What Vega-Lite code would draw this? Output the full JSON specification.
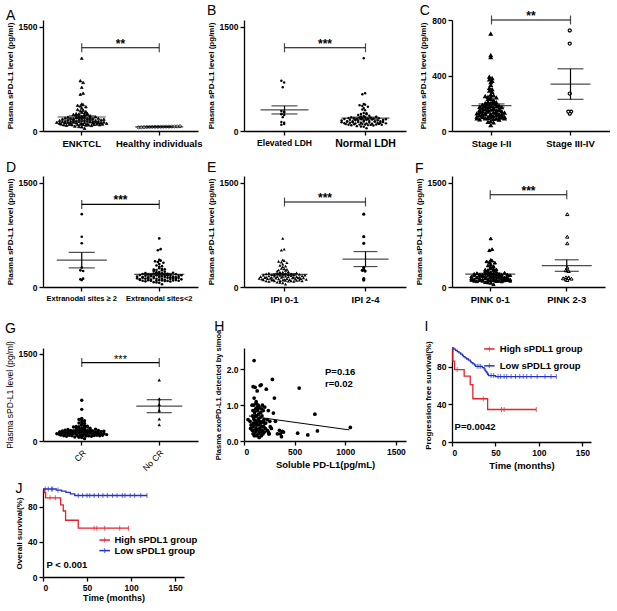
{
"$schema": "https://vega.github.io/schema/vega-lite/v6.json",
"background": "white",
"padding": {"left": 5, "top": 4, "right": 0, "bottom": 0},
"config": {
 "font": "Liberation Sans",
 "view": {"stroke": null},
 "axis": {"grid": false, "domainColor": "#000", "domainWidth": 1.3, "tickColor": "#000", "tickWidth": 1.3, "tickSize": 4, "labelColor": "#000", "titleColor": "#000", "labelFont": "Liberation Sans", "titleFont": "Liberation Sans", "labelFontWeight": "bold", "labelFontSize": 8.5, "titleFontWeight": "bold", "titleFontSize": 8, "labelPadding": 2, "titlePadding": 4},
 "axisBand": {"labelFontSize": 9.5, "labelAngle": 0, "labelPadding": 3},
 "title": {"anchor": "start", "frame": "bounds", "fontSize": 14, "fontWeight": "normal", "color": "#000", "font": "Liberation Sans", "offset": 3}
},
"datasets": {
 "pts": [
  {"c":"P","v":1050,"l":"N","s":null,"e":"≥2","i":"2-4","p":"2-3","r":"No CR","x":0.38},
  {"c":"P","v":725,"l":"E","s":"III-IV","e":"≥2","i":"2-4","p":"2-3","r":"No CR","x":0.28},
  {"c":"P","v":700,"l":"E","s":"I-II","e":"<2","i":"0-1","p":"0-1","r":"CR","x":0.75},
  {"c":"P","v":630,"l":"E","s":"III-IV","e":"≥2","i":"2-4","p":"2-3","r":"No CR","x":0.17},
  {"c":"P","v":545,"l":"N","s":"I-II","e":"<2","i":"0-1","p":"0-1","r":"CR","x":1.48},
  {"c":"P","v":530,"l":"N","s":"I-II","e":"<2","i":"0-1","p":"0-1","r":"No CR","x":0.22},
  {"c":"P","v":380,"l":"N","s":"I-II","e":"<2","i":"0-1","p":"0-1","r":"No CR","x":0.27},
  {"c":"P","v":280,"l":"E","s":"I-II","e":"≥2","i":"2-4","p":"2-3","r":"No CR","x":1.72},
  {"c":"P","v":270,"l":"E","s":"III-IV","e":"<2","i":"0-1","p":"0-1","r":"CR","x":0.35},
  {"c":"P","v":240,"l":"E","s":"I-II","e":"≥2","i":"2-4","p":"2-3","r":"CR","x":0.25},
  {"c":"P","v":230,"l":"E","s":"I-II","e":"≥2","i":"2-4","p":"2-3","r":"CR","x":0.6},
  {"c":"P","v":250,"l":"E","s":"I-II","e":"<2","i":"2-4","p":"0-1","r":"CR","x":0.2},
  {"c":"P","v":140,"l":"N","s":"III-IV","e":"<2","i":"0-1","p":"2-3","r":"CR","x":0.9},
  {"c":"P","v":125,"l":"N","s":"III-IV","e":"<2","i":"0-1","p":"2-3","r":"CR","x":0.45},
  {"c":"P","v":140,"l":"N","s":"III-IV","e":"<2","i":"0-1","p":"2-3","r":"CR","x":0.3},
  {"c":"P","v":120,"l":"E","s":"I-II","e":"≥2","i":"2-4","p":"2-3","r":"CR","x":1.1},
  {"c":"P","v":110,"l":"N","s":"I-II","e":"≥2","i":"0-1","p":"2-3","r":"CR","x":0.7},
  {"c":"P","v":100,"l":"E","s":"I-II","e":"≥2","i":"2-4","p":"2-3","r":"CR","x":2.25},
  {"c":"P","v":290,"l":"E","s":"I-II","e":"<2","i":"0-1","p":"0-1","r":"CR","x":0.78},
  {"c":"P","v":200,"l":"E","s":"I-II","e":"<2","i":"0-1","p":"0-1","r":"CR","x":0.5},
  {"c":"P","v":130,"l":"E","s":"I-II","e":"<2","i":"0-1","p":"2-3","r":"CR","x":0.95},
  {"c":"P","v":90,"l":"E","s":"I-II","e":"<2","i":"0-1","p":"0-1","r":"CR","x":0.4},
  {"c":"P","v":40,"l":"N","s":"I-II","e":"<2","i":"0-1","p":"0-1","r":"CR","x":0.6},
  {"c":"P","v":60,"l":"N","s":"I-II","e":"<2","i":"0-1","p":"0-1","r":"CR","x":0.55},
  {"c":"P","v":65,"l":"N","s":"I-II","e":"<2","i":"0-1","p":"0-1","r":"CR","x":0.35},
  {"c":"P","v":70,"l":"N","s":"I-II","e":"<2","i":"0-1","p":"0-1","r":"CR","x":0.45},
  {"c":"P","v":80,"l":"N","s":"I-II","e":"<2","i":"0-1","p":"0-1","r":"CR","x":1.0},
  {"c":"P","v":82,"l":"N","s":"I-II","e":"<2","i":"0-1","p":"0-1","r":"CR","x":0.3},
  {"c":"P","v":85,"l":"N","s":"I-II","e":"<2","i":"0-1","p":"0-1","r":"CR","x":0.7},
  {"c":"P","v":88,"l":"N","s":"I-II","e":"<2","i":"0-1","p":"0-1","r":"CR","x":0.85},
  {"c":"P","v":90,"l":"N","s":"I-II","e":"<2","i":"0-1","p":"0-1","r":"CR","x":1.52},
  {"c":"P","v":90,"l":"N","s":"I-II","e":"<2","i":"0-1","p":"0-1","r":"CR","x":0.2},
  {"c":"P","v":92,"l":"N","s":"I-II","e":"<2","i":"0-1","p":"0-1","r":"CR","x":0.5},
  {"c":"P","v":95,"l":"N","s":"I-II","e":"<2","i":"0-1","p":"0-1","r":"CR","x":0.65},
  {"c":"P","v":95,"l":"N","s":"I-II","e":"<2","i":"0-1","p":"0-1","r":"CR","x":1.0},
  {"c":"P","v":98,"l":"N","s":"I-II","e":"<2","i":"0-1","p":"0-1","r":"CR","x":0.3},
  {"c":"P","v":100,"l":"N","s":"I-II","e":"<2","i":"0-1","p":"0-1","r":"CR","x":0.6},
  {"c":"P","v":100,"l":"N","s":"I-II","e":"<2","i":"0-1","p":"0-1","r":"CR","x":1.2},
  {"c":"P","v":102,"l":"N","s":"I-II","e":"<2","i":"0-1","p":"0-1","r":"CR","x":0.15},
  {"c":"P","v":105,"l":"N","s":"I-II","e":"<2","i":"0-1","p":"0-1","r":"CR","x":0.8},
  {"c":"P","v":108,"l":"N","s":"I-II","e":"<2","i":"0-1","p":"0-1","r":"CR","x":0.45},
  {"c":"P","v":110,"l":"N","s":"I-II","e":"<2","i":"0-1","p":"0-1","r":"CR","x":1.5},
  {"c":"P","v":112,"l":"N","s":"I-II","e":"<2","i":"0-1","p":"0-1","r":"CR","x":0.25},
  {"c":"P","v":115,"l":"N","s":"I-II","e":"<2","i":"0-1","p":"0-1","r":"CR","x":0.9},
  {"c":"P","v":118,"l":"N","s":"I-II","e":"<2","i":"0-1","p":"0-1","r":"CR","x":0.55},
  {"c":"P","v":120,"l":"N","s":"I-II","e":"<2","i":"0-1","p":"0-1","r":"CR","x":1.05},
  {"c":"P","v":120,"l":"N","s":"I-II","e":"<2","i":"0-1","p":"0-1","r":"CR","x":0.35},
  {"c":"P","v":122,"l":"N","s":"I-II","e":"<2","i":"0-1","p":"0-1","r":"CR","x":0.7},
  {"c":"P","v":125,"l":"N","s":"I-II","e":"<2","i":"0-1","p":"0-1","r":"CR","x":0.15},
  {"c":"P","v":128,"l":"N","s":"I-II","e":"<2","i":"0-1","p":"0-1","r":"CR","x":0.5},
  {"c":"P","v":130,"l":"N","s":"I-II","e":"<2","i":"0-1","p":"0-1","r":"CR","x":1.4},
  {"c":"P","v":132,"l":"N","s":"I-II","e":"<2","i":"0-1","p":"0-1","r":"CR","x":0.85},
  {"c":"P","v":135,"l":"N","s":"I-II","e":"<2","i":"0-1","p":"0-1","r":"CR","x":0.3},
  {"c":"P","v":138,"l":"N","s":"I-II","e":"<2","i":"0-1","p":"0-1","r":"CR","x":0.6},
  {"c":"P","v":140,"l":"N","s":"I-II","e":"<2","i":"0-1","p":"0-1","r":"CR","x":1.0},
  {"c":"P","v":142,"l":"N","s":"I-II","e":"<2","i":"0-1","p":"0-1","r":"CR","x":0.2},
  {"c":"P","v":145,"l":"N","s":"I-II","e":"<2","i":"0-1","p":"0-1","r":"CR","x":0.75},
  {"c":"P","v":148,"l":"N","s":"I-II","e":"<2","i":"0-1","p":"0-1","r":"CR","x":0.45},
  {"c":"P","v":150,"l":"N","s":"I-II","e":"<2","i":"0-1","p":"0-1","r":"CR","x":0.95},
  {"c":"P","v":150,"l":"N","s":"I-II","e":"<2","i":"0-1","p":"0-1","r":"CR","x":0.1},
  {"c":"P","v":152,"l":"N","s":"I-II","e":"<2","i":"0-1","p":"0-1","r":"CR","x":0.55},
  {"c":"P","v":155,"l":"N","s":"I-II","e":"<2","i":"0-1","p":"0-1","r":"CR","x":0.35},
  {"c":"P","v":158,"l":"N","s":"I-II","e":"<2","i":"0-1","p":"0-1","r":"CR","x":0.65},
  {"c":"P","v":160,"l":"N","s":"I-II","e":"<2","i":"0-1","p":"0-1","r":"CR","x":1.55},
  {"c":"P","v":162,"l":"N","s":"I-II","e":"<2","i":"0-1","p":"0-1","r":"CR","x":0.25},
  {"c":"P","v":165,"l":"N","s":"I-II","e":"<2","i":"0-1","p":"0-1","r":"CR","x":0.8},
  {"c":"P","v":168,"l":"N","s":"I-II","e":"<2","i":"0-1","p":"0-1","r":"CR","x":0.5},
  {"c":"P","v":170,"l":"N","s":"I-II","e":"<2","i":"0-1","p":"0-1","r":"CR","x":1.57},
  {"c":"P","v":172,"l":"N","s":"I-II","e":"<2","i":"0-1","p":"0-1","r":"CR","x":0.15},
  {"c":"P","v":175,"l":"N","s":"I-II","e":"<2","i":"0-1","p":"0-1","r":"CR","x":0.9},
  {"c":"P","v":175,"l":"N","s":"I-II","e":"<2","i":"0-1","p":"0-1","r":"CR","x":0.4},
  {"c":"P","v":178,"l":"N","s":"I-II","e":"<2","i":"0-1","p":"0-1","r":"CR","x":0.7},
  {"c":"P","v":180,"l":"N","s":"I-II","e":"<2","i":"0-1","p":"0-1","r":"CR","x":0.3},
  {"c":"P","v":182,"l":"N","s":"I-II","e":"<2","i":"0-1","p":"0-1","r":"CR","x":1.0},
  {"c":"P","v":185,"l":"N","s":"I-II","e":"<2","i":"0-1","p":"0-1","r":"CR","x":0.55},
  {"c":"P","v":188,"l":"N","s":"I-II","e":"<2","i":"0-1","p":"0-1","r":"CR","x":0.2},
  {"c":"P","v":190,"l":"N","s":"I-II","e":"<2","i":"0-1","p":"0-1","r":"CR","x":0.85},
  {"c":"P","v":195,"l":"N","s":"I-II","e":"<2","i":"0-1","p":"0-1","r":"CR","x":0.4},
  {"c":"P","v":198,"l":"N","s":"I-II","e":"<2","i":"0-1","p":"0-1","r":"CR","x":0.6},
  {"c":"P","v":200,"l":"N","s":"I-II","e":"<2","i":"0-1","p":"0-1","r":"CR","x":0.25},
  {"c":"P","v":205,"l":"N","s":"I-II","e":"<2","i":"0-1","p":"0-1","r":"CR","x":0.95},
  {"c":"P","v":210,"l":"N","s":"I-II","e":"<2","i":"0-1","p":"0-1","r":"CR","x":0.35},
  {"c":"P","v":215,"l":"N","s":"I-II","e":"<2","i":"0-1","p":"0-1","r":"CR","x":0.5},
  {"c":"P","v":220,"l":"N","s":"I-II","e":"<2","i":"0-1","p":"0-1","r":"CR","x":1.45},
  {"c":"P","v":230,"l":"N","s":"I-II","e":"<2","i":"0-1","p":"0-1","r":"CR","x":0.3},
  {"c":"P","v":240,"l":"N","s":"I-II","e":"<2","i":"0-1","p":"0-1","r":"CR","x":0.85},
  {"c":"P","v":245,"l":"N","s":"I-II","e":"<2","i":"0-1","p":"0-1","r":"CR","x":0.2},
  {"c":"P","v":255,"l":"N","s":"I-II","e":"<2","i":"0-1","p":"0-1","r":"CR","x":0.55},
  {"c":"P","v":260,"l":"N","s":"I-II","e":"<2","i":"0-1","p":"0-1","r":"CR","x":0.4},
  {"c":"P","v":300,"l":"N","s":"I-II","e":"<2","i":"0-1","p":"0-1","r":"CR","x":1.2},
  {"c":"P","v":310,"l":"N","s":"I-II","e":"<2","i":"0-1","p":"0-1","r":"CR","x":0.55},
  {"c":"P","v":330,"l":"N","s":"I-II","e":"<2","i":"0-1","p":"0-1","r":"CR","x":0.2},
  {"c":"P","v":350,"l":"N","s":"I-II","e":"<2","i":"0-1","p":"0-1","r":"CR","x":0.3},
  {"c":"P","v":360,"l":"N","s":"I-II","e":"<2","i":"0-1","p":"0-1","r":"CR","x":0.2},
  {"c":"P","v":370,"l":"N","s":"I-II","e":"<2","i":"0-1","p":"0-1","r":"CR","x":0.12},
  {"c":"P","v":390,"l":"N","s":"I-II","e":"<2","i":"0-1","p":"0-1","r":"CR","x":0.25},
  {"c":"H","v":52},{"c":"H","v":54},{"c":"H","v":56},{"c":"H","v":57},
  {"c":"H","v":58},{"c":"H","v":59},{"c":"H","v":60},{"c":"H","v":60},
  {"c":"H","v":61},{"c":"H","v":62},{"c":"H","v":63},{"c":"H","v":63},
  {"c":"H","v":64},{"c":"H","v":65},{"c":"H","v":66},{"c":"H","v":68}
 ],
 "km": [
  {"f":"I","g":"High","t":0,"s":100,"c":0},{"f":"I","g":"High","t":1,"s":86,"c":0},{"f":"I","g":"High","t":3,"s":77,"c":0},{"f":"I","g":"High","t":6,"s":77,"c":1},{"f":"I","g":"High","t":14,"s":70,"c":0},{"f":"I","g":"High","t":21,"s":61,"c":0},{"f":"I","g":"High","t":24,"s":46,"c":0},{"f":"I","g":"High","t":36,"s":46,"c":1},{"f":"I","g":"High","t":41,"s":34.6,"c":0},{"f":"I","g":"High","t":57,"s":34.6,"c":1},{"f":"I","g":"High","t":60,"s":34.6,"c":1},{"f":"I","g":"High","t":97,"s":34.6,"c":1},
  {"f":"I","g":"Low","t":0,"s":100,"c":0},{"f":"I","g":"Low","t":2,"s":98.7,"c":0},{"f":"I","g":"Low","t":4,"s":97.4,"c":0},{"f":"I","g":"Low","t":6,"s":96.1,"c":0},{"f":"I","g":"Low","t":8,"s":94.8,"c":0},{"f":"I","g":"Low","t":10,"s":93.5,"c":0},{"f":"I","g":"Low","t":12,"s":92.2,"c":0},{"f":"I","g":"Low","t":13,"s":90.9,"c":0},{"f":"I","g":"Low","t":15,"s":89.6,"c":0},{"f":"I","g":"Low","t":17,"s":88.3,"c":0},{"f":"I","g":"Low","t":19,"s":87,"c":0},{"f":"I","g":"Low","t":21,"s":85.7,"c":0},{"f":"I","g":"Low","t":22,"s":84.4,"c":0},{"f":"I","g":"Low","t":24,"s":83.1,"c":0},{"f":"I","g":"Low","t":26,"s":81.8,"c":0},{"f":"I","g":"Low","t":27,"s":80.5,"c":0},{"f":"I","g":"Low","t":29,"s":80.5,"c":1},{"f":"I","g":"Low","t":31,"s":80.5,"c":1},{"f":"I","g":"Low","t":33,"s":80.5,"c":1},{"f":"I","g":"Low","t":35,"s":79.1,"c":0},{"f":"I","g":"Low","t":37,"s":77.7,"c":0},{"f":"I","g":"Low","t":38,"s":76.3,"c":0},{"f":"I","g":"Low","t":39,"s":74.9,"c":0},{"f":"I","g":"Low","t":40,"s":73.5,"c":0},{"f":"I","g":"Low","t":41,"s":72.1,"c":0},{"f":"I","g":"Low","t":42,"s":70.7,"c":0},{"f":"I","g":"Low","t":45,"s":70.7,"c":1},{"f":"I","g":"Low","t":48,"s":70.7,"c":1},{"f":"I","g":"Low","t":50,"s":69.6,"c":0},{"f":"I","g":"Low","t":53,"s":69.6,"c":1},{"f":"I","g":"Low","t":56,"s":69.6,"c":1},{"f":"I","g":"Low","t":60,"s":69.6,"c":1},{"f":"I","g":"Low","t":63,"s":69.6,"c":1},{"f":"I","g":"Low","t":68,"s":69.6,"c":1},{"f":"I","g":"Low","t":73,"s":69.6,"c":1},{"f":"I","g":"Low","t":78,"s":69.6,"c":1},{"f":"I","g":"Low","t":82,"s":69.6,"c":1},{"f":"I","g":"Low","t":86,"s":69.6,"c":1},{"f":"I","g":"Low","t":91,"s":69.6,"c":1},{"f":"I","g":"Low","t":98,"s":69.6,"c":1},{"f":"I","g":"Low","t":107,"s":69.6,"c":1},{"f":"I","g":"Low","t":114,"s":69.6,"c":1},{"f":"I","g":"Low","t":120,"s":69.6,"c":1},
  {"f":"J","g":"High","t":0,"s":100,"c":0},{"f":"J","g":"High","t":1.4,"s":96,"c":0},{"f":"J","g":"High","t":3,"s":90,"c":0},{"f":"J","g":"High","t":8,"s":90,"c":1},{"f":"J","g":"High","t":14,"s":90,"c":1},{"f":"J","g":"High","t":20,"s":82,"c":0},{"f":"J","g":"High","t":23,"s":75,"c":0},{"f":"J","g":"High","t":25.6,"s":64.5,"c":0},{"f":"J","g":"High","t":40,"s":55.5,"c":0},{"f":"J","g":"High","t":58,"s":55.5,"c":1},{"f":"J","g":"High","t":61,"s":55.5,"c":1},{"f":"J","g":"High","t":70,"s":55.5,"c":1},{"f":"J","g":"High","t":87,"s":55.5,"c":1},{"f":"J","g":"High","t":97,"s":55.5,"c":1},
  {"f":"J","g":"Low","t":0,"s":100,"c":0},{"f":"J","g":"Low","t":2.5,"s":100,"c":1},{"f":"J","g":"Low","t":6,"s":100,"c":1},{"f":"J","g":"Low","t":9.6,"s":100,"c":1},{"f":"J","g":"Low","t":11,"s":100,"c":1},{"f":"J","g":"Low","t":15,"s":98.8,"c":0},{"f":"J","g":"Low","t":17,"s":98.8,"c":1},{"f":"J","g":"Low","t":21,"s":97.6,"c":0},{"f":"J","g":"Low","t":26,"s":96.2,"c":0},{"f":"J","g":"Low","t":31,"s":94.5,"c":0},{"f":"J","g":"Low","t":36,"s":92.6,"c":0},{"f":"J","g":"Low","t":40,"s":92.6,"c":1},{"f":"J","g":"Low","t":45,"s":92.6,"c":1},{"f":"J","g":"Low","t":50,"s":92.6,"c":1},{"f":"J","g":"Low","t":53,"s":92.6,"c":1},{"f":"J","g":"Low","t":58,"s":92.6,"c":1},{"f":"J","g":"Low","t":63,"s":92.6,"c":1},{"f":"J","g":"Low","t":68,"s":92.6,"c":1},{"f":"J","g":"Low","t":73,"s":92.6,"c":1},{"f":"J","g":"Low","t":79,"s":92.6,"c":1},{"f":"J","g":"Low","t":84,"s":92.6,"c":1},{"f":"J","g":"Low","t":90,"s":92.6,"c":1},{"f":"J","g":"Low","t":93,"s":92.6,"c":1},{"f":"J","g":"Low","t":99,"s":92.6,"c":1},{"f":"J","g":"Low","t":104,"s":92.6,"c":1},{"f":"J","g":"Low","t":111,"s":92.6,"c":1},{"f":"J","g":"Low","t":118,"s":92.6,"c":1}
 ],
 "leg": [
  {"f":"I","g":"High","t1":37,"tm":43,"t2":49,"tl":55,"s":99,"lab":"High sPDL1 group"},
  {"f":"I","g":"Low","t1":37,"tm":43,"t2":49,"tl":55,"s":81,"lab":"Low sPDL1 group"},
  {"f":"J","g":"High","t1":64,"tm":70,"t2":76,"tl":81,"s":42,"lab":"High sPDL1 group"},
  {"f":"J","g":"Low","t1":64,"tm":70,"t2":76,"tl":81,"s":30,"lab":"Low sPDL1 group"}
 ]
},
"spacing": 15,
"vconcat": [
{"spacing": 12, "vconcat": [
 {"bounds": "flush", "spacing": 46, "hconcat": [
   {"title": {"text": "A", "offset": -3}, "width": 155, "height": 111,
    "layer": [
     {"data": {"name": "pts"},
      "transform": [
       {"bin": {"step": 35}, "field": "v", "as": "vb"},
       {"window": [{"op": "row_number", "as": "rk"}], "groupby": ["c", "vb"], "sort": [{"field": "x"}]},
       {"joinaggregate": [{"op": "count", "as": "n"}], "groupby": ["c", "vb"]},
       {"calculate": "datum.rk - (datum.n + 1) / 2", "as": "off"}],
      "mark": {"type": "point", "filled": true, "stroke": "black", "strokeWidth": 0.7, "opacity": 1},
      "encoding": {
       "x": {"field": "c", "type": "nominal", "scale": {"domain": ["P", "H"], "paddingInner": 0, "paddingOuter": 0}, "axis": {"title": null, "labelExpr": "datum.label == 'P' ? 'ENKTCL' : 'Healthy individuals'"}},
       "xOffset": {"field": "off", "type": "quantitative", "scale": {"domain": [-14, 14]}},
       "y": {"field": "v", "type": "quantitative", "scale": {"domain": [0, 1500]}, "axis": {"values": [0, 500, 1000, 1500], "format": "d", "title": "Plasma sPD-L1 level (pg/ml)"}},
       "shape": {"field": "c", "type": "nominal", "scale": {"domain": ["P", "H"], "range": ["triangle-up", "circle"]}, "legend": null},
       "fill": {"field": "c", "type": "nominal", "scale": {"domain": ["P", "H"], "range": ["black", "white"]}, "legend": null},
       "size": {"field": "c", "type": "nominal", "scale": {"domain": ["P", "H"], "range": [8, 12]}, "legend": null}}},
     {"data": {"name": "pts"},
      "transform": [
       {"aggregate": [{"op": "mean", "field": "v", "as": "m"}, {"op": "stderr", "field": "v", "as": "se"}], "groupby": ["c"]},
       {"calculate": "datum.m - datum.se", "as": "lo"}, {"calculate": "datum.m + datum.se", "as": "hi"}],
      "encoding": {"x": {"field": "c", "type": "nominal"}},
      "layer": [
       {"mark": {"type": "tick", "size": 48, "thickness": 1.2, "color": "black"}, "encoding": {"y": {"field": "m", "type": "quantitative"}}},
       {"mark": {"type": "rule", "color": "black", "strokeWidth": 1.2}, "encoding": {"y": {"field": "lo", "type": "quantitative"}, "y2": {"field": "hi"}}},
       {"mark": {"type": "tick", "size": 26, "thickness": 1.2, "color": "black"}, "encoding": {"y": {"field": "lo", "type": "quantitative"}}},
       {"mark": {"type": "tick", "size": 26, "thickness": 1.2, "color": "black"}, "encoding": {"y": {"field": "hi", "type": "quantitative"}}}]},
     {"data": {"values": [{"c": "P", "y": 1200}, {"c": "H", "y": 1200}]},
      "encoding": {"x": {"field": "c", "type": "nominal"}, "y": {"field": "y", "type": "quantitative"}},
      "layer": [
       {"mark": {"type": "line", "color": "black", "strokeWidth": 1.2}},
       {"mark": {"type": "tick", "orient": "vertical", "size": 9, "thickness": 1.2, "color": "black"}}]},
     {"data": {"values": [{"c": "H", "y": 1200, "t": "**"}]},
      "mark": {"type": "text", "fontSize": 12, "fontWeight": "bold", "baseline": "alphabetic"},
      "encoding": {"x": {"field": "c", "type": "nominal", "bandPosition": 0}, "y": {"field": "y", "type": "quantitative"}, "text": {"field": "t"}}}
    ]},
   {"title": {"text": "B", "offset": 2}, "width": 162, "height": 111,
    "layer": [
     {"data": {"name": "pts"},
      "transform": [
       {"filter": "datum.l != null"},
       {"bin": {"step": 35}, "field": "v", "as": "vb"},
       {"window": [{"op": "row_number", "as": "rk"}], "groupby": ["l", "vb"], "sort": [{"field": "x"}]},
       {"joinaggregate": [{"op": "count", "as": "n"}], "groupby": ["l", "vb"]},
       {"calculate": "datum.rk - (datum.n + 1) / 2", "as": "off"}],
      "mark": {"type": "circle", "size": 6, "color": "black", "opacity": 1},
      "encoding": {
       "x": {"field": "l", "type": "nominal", "scale": {"domain": ["E", "N"], "paddingInner": 0, "paddingOuter": 0}, "axis": {"title": null, "labelExpr": "datum.label == 'E' ? 'Elevated LDH' : 'Normal LDH'", "labelFontSize": {"condition": {"test": "datum.value == 'N'", "value": 10.5}, "value": 8.5}}},
       "xOffset": {"field": "off", "type": "quantitative", "scale": {"domain": [-14, 14]}},
       "y": {"field": "v", "type": "quantitative", "scale": {"domain": [0, 1500]}, "axis": {"values": [0, 500, 1000, 1500], "format": "d", "title": "Plasma sPD-L1 level (pg/ml)"}}}},
     {"data": {"name": "pts"},
      "transform": [
       {"filter": "datum.l != null"},
       {"aggregate": [{"op": "mean", "field": "v", "as": "m"}, {"op": "stderr", "field": "v", "as": "se"}], "groupby": ["l"]},
       {"calculate": "datum.m - datum.se", "as": "lo"}, {"calculate": "datum.m + datum.se", "as": "hi"}],
      "encoding": {"x": {"field": "l", "type": "nominal"}},
      "layer": [
       {"mark": {"type": "tick", "size": 48, "thickness": 1.2, "color": "black"}, "encoding": {"y": {"field": "m", "type": "quantitative"}}},
       {"mark": {"type": "rule", "color": "black", "strokeWidth": 1.2}, "encoding": {"y": {"field": "lo", "type": "quantitative"}, "y2": {"field": "hi"}}},
       {"mark": {"type": "tick", "size": 26, "thickness": 1.2, "color": "black"}, "encoding": {"y": {"field": "lo", "type": "quantitative"}}},
       {"mark": {"type": "tick", "size": 26, "thickness": 1.2, "color": "black"}, "encoding": {"y": {"field": "hi", "type": "quantitative"}}}]},
     {"data": {"values": [{"l": "E", "y": 1200}, {"l": "N", "y": 1200}]},
      "encoding": {"x": {"field": "l", "type": "nominal"}, "y": {"field": "y", "type": "quantitative"}},
      "layer": [
       {"mark": {"type": "line", "color": "black", "strokeWidth": 1.2}},
       {"mark": {"type": "tick", "orient": "vertical", "size": 9, "thickness": 1.2, "color": "black"}}]},
     {"data": {"values": [{"l": "N", "y": 1200, "t": "***"}]},
      "mark": {"type": "text", "fontSize": 12, "fontWeight": "bold", "baseline": "alphabetic"},
      "encoding": {"x": {"field": "l", "type": "nominal", "bandPosition": 0}, "y": {"field": "y", "type": "quantitative"}, "text": {"field": "t"}}}
    ]},
  {"title": {"text": "C", "offset": -8}, "width": 158, "height": 111,
   "layer": [
    {"data": {"name": "pts"},
     "transform": [
      {"filter": "datum.s != null"},
      {"bin": {"step": 20}, "field": "v", "as": "vb"},
      {"window": [{"op": "row_number", "as": "rk"}], "groupby": ["s", "vb"], "sort": [{"field": "x"}]},
      {"joinaggregate": [{"op": "count", "as": "n"}], "groupby": ["s", "vb"]},
      {"calculate": "datum.rk - (datum.n + 1) / 2", "as": "off"}],
     "mark": {"type": "point", "filled": true, "stroke": "black", "strokeWidth": 1.2, "opacity": 1},
     "encoding": {
      "x": {"field": "s", "type": "nominal", "scale": {"domain": ["I-II", "III-IV"], "paddingInner": 0, "paddingOuter": 0}, "axis": {"title": null, "labelExpr": "'Stage ' + datum.label"}},
      "xOffset": {"field": "off", "type": "quantitative", "scale": {"domain": [-14, 14]}},
      "y": {"field": "v", "type": "quantitative", "scale": {"domain": [0, 800]}, "axis": {"values": [0, 200, 400, 600, 800], "title": "Plasma sPD-L1 level (pg/ml)"}},
      "shape": {"field": "s", "type": "nominal", "scale": {"domain": ["I-II", "III-IV"], "range": ["square", "triangle-up"]}, "legend": null},
      "fill": {"field": "s", "type": "nominal", "scale": {"domain": ["I-II", "III-IV"], "range": ["black", "white"]}, "legend": null},
      "size": {"field": "s", "type": "nominal", "scale": {"domain": ["I-II", "III-IV"], "range": [4, 36]}, "legend": null}}},
    {"data": {"name": "pts"},
     "transform": [
      {"filter": "datum.s != null"},
      {"aggregate": [{"op": "mean", "field": "v", "as": "m"}, {"op": "stderr", "field": "v", "as": "se"}], "groupby": ["s"]},
      {"calculate": "datum.m - datum.se", "as": "lo"}, {"calculate": "datum.m + datum.se", "as": "hi"}],
     "encoding": {"x": {"field": "s", "type": "nominal"}},
     "layer": [
      {"mark": {"type": "tick", "size": 40, "thickness": 1.2, "color": "black"}, "encoding": {"y": {"field": "m", "type": "quantitative"}}},
      {"mark": {"type": "rule", "color": "black", "strokeWidth": 1.2}, "encoding": {"y": {"field": "lo", "type": "quantitative"}, "y2": {"field": "hi"}}},
      {"mark": {"type": "tick", "size": 26, "thickness": 1.2, "color": "black"}, "encoding": {"y": {"field": "lo", "type": "quantitative"}}},
      {"mark": {"type": "tick", "size": 26, "thickness": 1.2, "color": "black"}, "encoding": {"y": {"field": "hi", "type": "quantitative"}}}]},
    {"data": {"values": [{"s": "I-II", "y": 800}, {"s": "III-IV", "y": 800}]},
     "encoding": {"x": {"field": "s", "type": "nominal"}, "y": {"field": "y", "type": "quantitative"}},
     "layer": [
      {"mark": {"type": "line", "color": "black", "strokeWidth": 1.2}},
      {"mark": {"type": "tick", "orient": "vertical", "size": 9, "thickness": 1.2, "color": "black"}}]},
    {"data": {"values": [{"s": "III-IV", "y": 800, "t": "**"}]},
     "mark": {"type": "text", "fontSize": 12, "fontWeight": "bold", "baseline": "alphabetic"},
     "encoding": {"x": {"field": "s", "type": "nominal", "bandPosition": 0}, "y": {"field": "y", "type": "quantitative"}, "text": {"field": "t"}}}
   ]}
 ]},
 {"bounds": "flush", "spacing": 46, "hconcat": [
   {"title": {"text": "D", "offset": 1}, "width": 155, "height": 111,
    "layer": [
     {"data": {"name": "pts"},
      "transform": [
       {"filter": "datum.e != null"},
       {"bin": {"step": 35}, "field": "v", "as": "vb"},
       {"window": [{"op": "row_number", "as": "rk"}], "groupby": ["e", "vb"], "sort": [{"field": "x"}]},
       {"joinaggregate": [{"op": "count", "as": "n"}], "groupby": ["e", "vb"]},
       {"calculate": "datum.rk - (datum.n + 1) / 2", "as": "off"}],
      "mark": {"type": "circle", "size": 7, "color": "black", "opacity": 1},
      "encoding": {
       "x": {"field": "e", "type": "nominal", "scale": {"domain": ["≥2", "<2"], "paddingInner": 0, "paddingOuter": 0}, "axis": {"title": null, "labelFontSize": 7.5, "labelExpr": "datum.label == '<2' ? 'Extranodal sites<2' : 'Extranodal sites ≥ 2'"}},
       "xOffset": {"field": "off", "type": "quantitative", "scale": {"domain": [-14, 14]}},
       "y": {"field": "v", "type": "quantitative", "scale": {"domain": [0, 1500]}, "axis": {"values": [0, 500, 1000, 1500], "format": "d", "title": "Plasma sPD-L1 level (pg/ml)"}}}},
     {"data": {"name": "pts"},
      "transform": [
       {"filter": "datum.e != null"},
       {"aggregate": [{"op": "mean", "field": "v", "as": "m"}, {"op": "stderr", "field": "v", "as": "se"}], "groupby": ["e"]},
       {"calculate": "datum.m - datum.se", "as": "lo"}, {"calculate": "datum.m + datum.se", "as": "hi"}],
      "encoding": {"x": {"field": "e", "type": "nominal"}},
      "layer": [
       {"mark": {"type": "tick", "size": 50, "thickness": 1.2, "color": "black"}, "encoding": {"y": {"field": "m", "type": "quantitative"}}},
       {"mark": {"type": "rule", "color": "black", "strokeWidth": 1.2}, "encoding": {"y": {"field": "lo", "type": "quantitative"}, "y2": {"field": "hi"}}},
       {"mark": {"type": "tick", "size": 26, "thickness": 1.2, "color": "black"}, "encoding": {"y": {"field": "lo", "type": "quantitative"}}},
       {"mark": {"type": "tick", "size": 26, "thickness": 1.2, "color": "black"}, "encoding": {"y": {"field": "hi", "type": "quantitative"}}}]},
     {"data": {"values": [{"e": "≥2", "y": 1190}, {"e": "<2", "y": 1190}]},
      "encoding": {"x": {"field": "e", "type": "nominal"}, "y": {"field": "y", "type": "quantitative"}},
      "layer": [
       {"mark": {"type": "line", "color": "black", "strokeWidth": 1.2}},
       {"mark": {"type": "tick", "orient": "vertical", "size": 9, "thickness": 1.2, "color": "black"}}]},
     {"data": {"values": [{"e": "<2", "y": 1190, "t": "***"}]},
      "mark": {"type": "text", "fontSize": 12, "fontWeight": "bold", "baseline": "alphabetic"},
      "encoding": {"x": {"field": "e", "type": "nominal", "bandPosition": 0}, "y": {"field": "y", "type": "quantitative"}, "text": {"field": "t"}}}
    ]},
   {"title": {"text": "E", "offset": 1}, "width": 162, "height": 111,
    "layer": [
     {"data": {"name": "pts"},
      "transform": [
       {"filter": "datum.i != null"},
       {"bin": {"step": 35}, "field": "v", "as": "vb"},
       {"window": [{"op": "row_number", "as": "rk"}], "groupby": ["i", "vb"], "sort": [{"field": "x"}]},
       {"joinaggregate": [{"op": "count", "as": "n"}], "groupby": ["i", "vb"]},
       {"calculate": "datum.rk - (datum.n + 1) / 2", "as": "off"}],
      "mark": {"type": "point", "filled": true, "color": "black", "opacity": 1},
      "encoding": {
       "x": {"field": "i", "type": "nominal", "scale": {"domain": ["0-1", "2-4"], "paddingInner": 0, "paddingOuter": 0}, "axis": {"title": null, "labelExpr": "'IPI ' + datum.label"}},
       "xOffset": {"field": "off", "type": "quantitative", "scale": {"domain": [-14, 14]}},
       "y": {"field": "v", "type": "quantitative", "scale": {"domain": [0, 1500]}, "axis": {"values": [0, 500, 1000, 1500], "format": "d", "title": "Plasma sPD-L1 level (pg/ml)"}},
       "shape": {"field": "i", "type": "nominal", "scale": {"domain": ["0-1", "2-4"], "range": ["circle", "triangle-up"]}, "legend": null},
       "size": {"field": "i", "type": "nominal", "scale": {"domain": ["0-1", "2-4"], "range": [6, 18]}, "legend": null}}},
     {"data": {"name": "pts"},
      "transform": [
       {"filter": "datum.i != null"},
       {"aggregate": [{"op": "mean", "field": "v", "as": "m"}, {"op": "stderr", "field": "v", "as": "se"}], "groupby": ["i"]},
       {"calculate": "datum.m - datum.se", "as": "lo"}, {"calculate": "datum.m + datum.se", "as": "hi"}],
      "encoding": {"x": {"field": "i", "type": "nominal"}},
      "layer": [
       {"mark": {"type": "tick", "size": 46, "thickness": 1.2, "color": "black"}, "encoding": {"y": {"field": "m", "type": "quantitative"}}},
       {"mark": {"type": "rule", "color": "black", "strokeWidth": 1.2}, "encoding": {"y": {"field": "lo", "type": "quantitative"}, "y2": {"field": "hi"}}},
       {"mark": {"type": "tick", "size": 24, "thickness": 1.2, "color": "black"}, "encoding": {"y": {"field": "lo", "type": "quantitative"}}},
       {"mark": {"type": "tick", "size": 24, "thickness": 1.2, "color": "black"}, "encoding": {"y": {"field": "hi", "type": "quantitative"}}}]},
     {"data": {"values": [{"i": "0-1", "y": 1225}, {"i": "2-4", "y": 1225}]},
      "encoding": {"x": {"field": "i", "type": "nominal"}, "y": {"field": "y", "type": "quantitative"}},
      "layer": [
       {"mark": {"type": "line", "color": "black", "strokeWidth": 1.2}},
       {"mark": {"type": "tick", "orient": "vertical", "size": 9, "thickness": 1.2, "color": "black"}}]},
     {"data": {"values": [{"i": "2-4", "y": 1225, "t": "***"}]},
      "mark": {"type": "text", "fontSize": 12, "fontWeight": "bold", "baseline": "alphabetic"},
      "encoding": {"x": {"field": "i", "type": "nominal", "bandPosition": 0}, "y": {"field": "y", "type": "quantitative"}, "text": {"field": "t"}}}
    ]},
  {"title": {"text": "F", "offset": 0}, "width": 153, "height": 111,
   "layer": [
    {"data": {"name": "pts"},
     "transform": [
      {"filter": "datum.p != null"},
      {"bin": {"step": 35}, "field": "v", "as": "vb"},
      {"window": [{"op": "row_number", "as": "rk"}], "groupby": ["p", "vb"], "sort": [{"field": "x"}]},
      {"joinaggregate": [{"op": "count", "as": "n"}], "groupby": ["p", "vb"]},
      {"calculate": "datum.rk - (datum.n + 1) / 2", "as": "off"}],
     "mark": {"type": "point", "filled": true, "stroke": "black", "strokeWidth": 1, "opacity": 1},
     "encoding": {
      "x": {"field": "p", "type": "nominal", "scale": {"domain": ["0-1", "2-3"], "paddingInner": 0, "paddingOuter": 0}, "axis": {"title": null, "labelExpr": "'PINK ' + datum.label"}},
      "xOffset": {"field": "off", "type": "quantitative", "scale": {"domain": [-14, 14]}},
      "y": {"field": "v", "type": "quantitative", "scale": {"domain": [0, 1500]}, "axis": {"values": [0, 500, 1000, 1500], "format": "d", "title": "Plasma sPD-L1 level (pg/ml)"}},
      "shape": {"field": "p", "type": "nominal", "scale": {"domain": ["0-1", "2-3"], "range": ["circle", "triangle-up"]}, "legend": null},
      "fill": {"field": "p", "type": "nominal", "scale": {"domain": ["0-1", "2-3"], "range": ["black", "white"]}, "legend": null},
      "size": {"field": "p", "type": "nominal", "scale": {"domain": ["0-1", "2-3"], "range": [4, 24]}, "legend": null}}},
    {"data": {"name": "pts"},
     "transform": [
      {"filter": "datum.p != null"},
      {"aggregate": [{"op": "mean", "field": "v", "as": "m"}, {"op": "stderr", "field": "v", "as": "se"}], "groupby": ["p"]},
      {"calculate": "datum.m - datum.se", "as": "lo"}, {"calculate": "datum.m + datum.se", "as": "hi"}],
     "encoding": {"x": {"field": "p", "type": "nominal"}},
     "layer": [
      {"mark": {"type": "tick", "size": 50, "thickness": 1.2, "color": "black"}, "encoding": {"y": {"field": "m", "type": "quantitative"}}},
      {"mark": {"type": "rule", "color": "black", "strokeWidth": 1.2}, "encoding": {"y": {"field": "lo", "type": "quantitative"}, "y2": {"field": "hi"}}},
      {"mark": {"type": "tick", "size": 24, "thickness": 1.2, "color": "black"}, "encoding": {"y": {"field": "lo", "type": "quantitative"}}},
      {"mark": {"type": "tick", "size": 24, "thickness": 1.2, "color": "black"}, "encoding": {"y": {"field": "hi", "type": "quantitative"}}}]},
    {"data": {"values": [{"p": "0-1", "y": 1330}, {"p": "2-3", "y": 1330}]},
     "encoding": {"x": {"field": "p", "type": "nominal"}, "y": {"field": "y", "type": "quantitative"}},
     "layer": [
      {"mark": {"type": "line", "color": "black", "strokeWidth": 1.2}},
      {"mark": {"type": "tick", "orient": "vertical", "size": 9, "thickness": 1.2, "color": "black"}}]},
    {"data": {"values": [{"p": "2-3", "y": 1330, "t": "***"}]},
     "mark": {"type": "text", "fontSize": 12, "fontWeight": "bold", "baseline": "alphabetic"},
     "encoding": {"x": {"field": "p", "type": "nominal", "bandPosition": 0}, "y": {"field": "y", "type": "quantitative"}, "text": {"field": "t"}}}
   ]}
 ]}
]},
{"spacing": 9, "vconcat": [
 {"bounds": "flush", "spacing": 46, "hconcat": [
   {"title": {"text": "G", "offset": 5}, "width": 155, "height": 93,
    "layer": [
     {"data": {"name": "pts"},
      "transform": [
       {"filter": "datum.r != null"},
       {"bin": {"step": 35}, "field": "v", "as": "vb"},
       {"window": [{"op": "row_number", "as": "rk"}], "groupby": ["r", "vb"], "sort": [{"field": "x"}]},
       {"joinaggregate": [{"op": "count", "as": "n"}], "groupby": ["r", "vb"]},
       {"calculate": "datum.rk - (datum.n + 1) / 2", "as": "off"}],
      "mark": {"type": "point", "filled": true, "color": "black", "opacity": 1},
      "encoding": {
       "x": {"field": "r", "type": "nominal", "scale": {"domain": ["CR", "No CR"], "paddingInner": 0, "paddingOuter": 0}, "axis": {"title": null, "labelAngle": -45, "labelFontWeight": "normal", "labelFontSize": 8.5}},
       "xOffset": {"field": "off", "type": "quantitative", "scale": {"domain": [-14, 14]}},
       "y": {"field": "v", "type": "quantitative", "scale": {"domain": [0, 1500]}, "axis": {"values": [0, 500, 1000, 1500], "format": "d", "title": "Plasma sPD-L1 level (pg/ml)", "titleFontWeight": "normal", "titleFontSize": 8.5}},
       "shape": {"field": "r", "type": "nominal", "scale": {"domain": ["CR", "No CR"], "range": ["circle", "triangle-up"]}, "legend": null},
       "size": {"field": "r", "type": "nominal", "scale": {"domain": ["CR", "No CR"], "range": [6, 14]}, "legend": null}}},
     {"data": {"name": "pts"},
      "transform": [
       {"filter": "datum.r != null"},
       {"aggregate": [{"op": "mean", "field": "v", "as": "m"}, {"op": "stderr", "field": "v", "as": "se"}], "groupby": ["r"]},
       {"calculate": "datum.m - datum.se", "as": "lo"}, {"calculate": "datum.m + datum.se", "as": "hi"}],
      "encoding": {"x": {"field": "r", "type": "nominal"}},
      "layer": [
       {"mark": {"type": "tick", "size": 46, "thickness": 1.2, "color": "black"}, "encoding": {"y": {"field": "m", "type": "quantitative"}}},
       {"mark": {"type": "rule", "color": "black", "strokeWidth": 1.2}, "encoding": {"y": {"field": "lo", "type": "quantitative"}, "y2": {"field": "hi"}}},
       {"mark": {"type": "tick", "size": 25, "thickness": 1.2, "color": "black"}, "encoding": {"y": {"field": "lo", "type": "quantitative"}}},
       {"mark": {"type": "tick", "size": 25, "thickness": 1.2, "color": "black"}, "encoding": {"y": {"field": "hi", "type": "quantitative"}}}]},
     {"data": {"values": [{"r": "CR", "y": 1350}, {"r": "No CR", "y": 1350}]},
      "encoding": {"x": {"field": "r", "type": "nominal"}, "y": {"field": "y", "type": "quantitative"}},
      "layer": [
       {"mark": {"type": "line", "color": "black", "strokeWidth": 1.2}},
       {"mark": {"type": "tick", "orient": "vertical", "size": 9, "thickness": 1.2, "color": "black"}}]},
     {"data": {"values": [{"r": "No CR", "y": 1350, "t": "***"}]},
      "mark": {"type": "text", "fontSize": 11, "fontWeight": "normal", "baseline": "alphabetic"},
      "encoding": {"x": {"field": "r", "type": "nominal", "bandPosition": 0}, "y": {"field": "y", "type": "quantitative"}, "text": {"field": "t"}}}
    ]},
   {"title": {"text": "H", "offset": -5}, "width": 162, "height": 93,
    "layer": [
     {"data": {"name": "pts"},
      "transform": [{"filter": "datum.c == 'P'"}],
      "mark": {"type": "circle", "size": 14, "color": "black", "opacity": 1},
      "encoding": {
       "x": {"field": "v", "type": "quantitative", "scale": {"domain": [0, 1500]}, "axis": {"values": [0, 500, 1000, 1500], "format": "d", "title": "Soluble PD-L1(pg/mL)", "titleFontSize": 9.5}},
       "y": {"field": "x", "type": "quantitative", "scale": {"domain": [0, 2.5]}, "axis": {"values": [0, 0.5, 1, 1.5, 2, 2.5], "format": ".1f", "title": "Plasma exoPD-L1 detected by simoa", "titleFontSize": 7.5}}}},
     {"data": {"values": [{"v": 48, "x": 0.7}, {"v": 1040, "x": 0.31}]},
      "mark": {"type": "line", "color": "black", "strokeWidth": 1},
      "encoding": {"x": {"field": "v", "type": "quantitative"}, "y": {"field": "x", "type": "quantitative"}}},
     {"data": {"values": [{"v": 800, "x": 1.94, "t": "P=0.16"}, {"v": 800, "x": 1.6, "t": "r=0.02"}]},
      "mark": {"type": "text", "align": "left", "baseline": "middle", "fontSize": 9.5, "fontWeight": "bold", "color": "black"},
      "encoding": {"x": {"field": "v", "type": "quantitative"}, "y": {"field": "x", "type": "quantitative"}, "text": {"field": "t"}}}
    ]},
  {"title": {"text": "I", "offset": 7}, "width": 139, "height": 94,
   "layer": [
    {"data": {"name": "km"},
     "transform": [{"filter": "datum.f == 'I'"}],
     "encoding": {
      "x": {"field": "t", "type": "quantitative", "scale": {"domain": [0, 150]}, "axis": {"values": [0, 50, 100, 150], "title": "Time (months)", "titleFontSize": 9.5}},
      "y": {"field": "s", "type": "quantitative", "scale": {"domain": [0, 100]}, "axis": {"values": [0, 20, 40, 60, 80, 100], "title": "Progression free survival(%)"}},
      "color": {"field": "g", "type": "nominal", "scale": {"domain": ["High", "Low"], "range": ["#e8202a", "#2233cc"]}, "legend": null}},
     "layer": [
      {"mark": {"type": "line", "interpolate": "step-after", "strokeWidth": 1.3}},
      {"transform": [{"filter": "datum.c == 1"}], "mark": {"type": "tick", "orient": "vertical", "size": 5, "thickness": 1}}]},
    {"data": {"name": "leg"},
     "transform": [{"filter": "datum.f == 'I'"}],
     "layer": [
      {"mark": {"type": "rule", "strokeWidth": 1.5}, "encoding": {"x": {"field": "t1", "type": "quantitative"}, "x2": {"field": "t2"}, "y": {"field": "s", "type": "quantitative"}, "color": {"field": "g", "type": "nominal"}}},
      {"mark": {"type": "tick", "orient": "vertical", "size": 5, "thickness": 1}, "encoding": {"x": {"field": "tm", "type": "quantitative"}, "y": {"field": "s", "type": "quantitative"}, "color": {"field": "g", "type": "nominal"}}},
      {"mark": {"type": "text", "align": "left", "baseline": "middle", "fontSize": 9.5, "fontWeight": "bold", "color": "black"}, "encoding": {"x": {"field": "tl", "type": "quantitative"}, "y": {"field": "s", "type": "quantitative"}, "text": {"field": "lab"}}}]},
    {"data": {"values": [{"t": 3, "s": 16, "txt": "P=0.0042"}]},
     "mark": {"type": "text", "align": "left", "baseline": "middle", "fontSize": 9.5, "fontWeight": "bold", "color": "black"},
     "encoding": {"x": {"field": "t", "type": "quantitative"}, "y": {"field": "s", "type": "quantitative"}, "text": {"field": "txt"}}}
   ]}
 ]},
 {"title": {"text": "J", "offset": -10}, "width": 141, "height": 88,
  "layer": [
   {"data": {"name": "km"},
    "transform": [{"filter": "datum.f == 'J'"}],
    "encoding": {
     "x": {"field": "t", "type": "quantitative", "scale": {"domain": [0, 150]}, "axis": {"values": [0, 50, 100, 150], "title": "Time (months)", "titleFontSize": 9, "titlePadding": 2}},
     "y": {"field": "s", "type": "quantitative", "scale": {"domain": [0, 100]}, "axis": {"values": [0, 20, 40, 60, 80, 100], "title": "Overall survival(%)"}},
     "color": {"field": "g", "type": "nominal", "scale": {"domain": ["High", "Low"], "range": ["#f47c20", "#2233cc"]}, "legend": null}},
    "layer": [
     {"mark": {"type": "line", "interpolate": "step-after", "strokeWidth": 1.3}},
     {"transform": [{"filter": "datum.c == 1"}], "mark": {"type": "tick", "orient": "vertical", "size": 5, "thickness": 1}}]},
   {"data": {"name": "leg"},
    "transform": [{"filter": "datum.f == 'J'"}],
    "layer": [
     {"mark": {"type": "rule", "strokeWidth": 1.5}, "encoding": {"x": {"field": "t1", "type": "quantitative"}, "x2": {"field": "t2"}, "y": {"field": "s", "type": "quantitative"}, "color": {"field": "g", "type": "nominal"}}},
     {"mark": {"type": "tick", "orient": "vertical", "size": 5, "thickness": 1}, "encoding": {"x": {"field": "tm", "type": "quantitative"}, "y": {"field": "s", "type": "quantitative"}, "color": {"field": "g", "type": "nominal"}}},
     {"mark": {"type": "text", "align": "left", "baseline": "middle", "fontSize": 9.5, "fontWeight": "bold", "color": "black"}, "encoding": {"x": {"field": "tl", "type": "quantitative"}, "y": {"field": "s", "type": "quantitative"}, "text": {"field": "lab"}}}]},
   {"data": {"values": [{"t": 4, "s": 14, "txt": "P < 0.001"}]},
    "mark": {"type": "text", "align": "left", "baseline": "middle", "fontSize": 9.5, "fontWeight": "bold", "color": "black"},
    "encoding": {"x": {"field": "t", "type": "quantitative"}, "y": {"field": "s", "type": "quantitative"}, "text": {"field": "txt"}}}
  ]}
]}
]
}
